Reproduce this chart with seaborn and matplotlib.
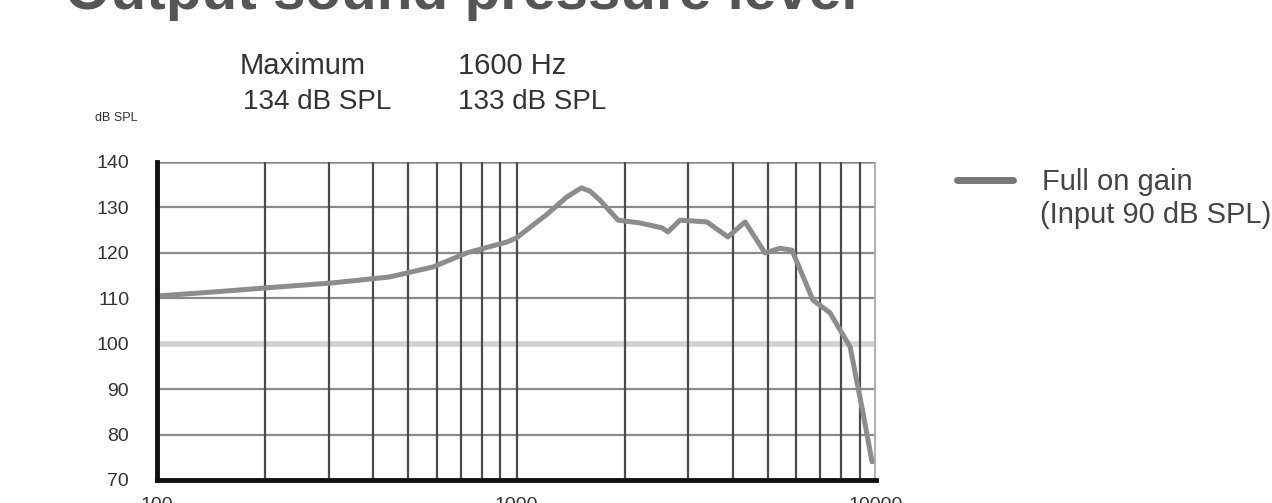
import numpy as np
import pandas as pd
import seaborn as sns
import matplotlib.pyplot as plt
from matplotlib.lines import Line2D

# Werte
freq_hz = [100, 150, 202, 309, 444, 586, 728, 942, 1000, 1216, 1380, 1514, 1600, 1707,
           1916, 2200, 2540, 2638, 2850, 3388, 3873, 4323, 4911, 5408, 5838, 6677,
           7447, 8471, 9205, 9750]
spl_db = [110.5, 111.5, 112.3, 113.4, 114.7, 116.9, 120.0, 122.4, 123.3, 128.5, 132.3,
          134.3, 133.6, 131.6, 127.2, 126.6, 125.5, 124.6, 127.2, 126.8, 123.5, 126.8,
          120.0, 121.0, 120.6, 109.6, 106.8, 99.3, 84.7, 74.0]

y_ticks = [70, 80, 90, 100, 110, 120, 130, 140]
x_ticks = [100, 1000, 10000]
x_ticklabels = ["100", "1000", "10000"]

title = "Output sound pressure level"
legend_label = "Full on gain"
legend_label2 = "(Input 90 dB SPL)"
y_unit = "dB SPL"
note1 = ["Maximum", "134 dB SPL"]
note2 = ["1600 Hz", "133 dB SPL"]

df = pd.DataFrame({"Frequenz": freq_hz, "SPL": spl_db})

sns.set_style("white")
fonts = ["Liberation Sans Narrow", "Liberation Sans", "DejaVu Sans"]
plt.rcParams["font.family"] = fonts

fig = plt.figure(figsize=(12.72, 5.03), dpi=100)
ax = fig.add_axes([157 / 1272, 23 / 503, 719 / 1272, 318 / 503])

# Gitter
for v in y_ticks[1:-1]:
    if v == 100:
        ax.axhline(v, color="#d2d2d2", lw=4, zorder=1)
    else:
        ax.axhline(v, color="#8a8a8a", lw=1.6, zorder=1)
ax.axhline(140, color="#8a8a8a", lw=1.8, zorder=1)
for dec in [100, 1000]:
    for m in range(2, 10):
        f = dec * m
        ax.axvline(f, color="#4a4a4a", lw=1.6, zorder=1)
ax.axvline(1000, color="#4a4a4a", lw=1.6, zorder=1)
ax.axvline(10000, color="#b0b0b0", lw=3.5, zorder=1)

sns.lineplot(data=df, x="Frequenz", y="SPL", ax=ax, color="#8c8c8c", lw=3.6, zorder=3)

ax.set_xscale("log")
ax.set_xlim(100, 10000)
ax.set_ylim(70, 140)
ax.set_yticks(y_ticks)
ax.set_xticks(x_ticks)
ax.set_xticklabels(x_ticklabels)
ax.minorticks_off()
ax.tick_params(axis="y", length=0, pad=20, labelsize=14, labelcolor="#333333")
ax.tick_params(axis="x", length=0, pad=12, labelsize=14, labelcolor="#333333")
ax.set_xlabel("")
ax.set_ylabel("")

for s in ["top", "right"]:
    ax.spines[s].set_visible(False)
ax.spines["left"].set_linewidth(3.5)
ax.spines["left"].set_color("#111111")
ax.spines["bottom"].set_linewidth(3.5)
ax.spines["bottom"].set_color("#111111")
ax.spines["left"].set_zorder(4)
ax.spines["bottom"].set_zorder(4)

# Texte
fig.text(65 / 1272, 1 - 9 / 503, title, fontsize=42, fontweight="bold", color="#555555",
         va="baseline", ha="left")
fig.text(95 / 1272, 1 - 118 / 503, y_unit, fontsize=9, color="#333333", va="center")
fig.text(240 / 1272, 1 - 66 / 503, note1[0], fontsize=21, color="#333333", va="center")
fig.text(243 / 1272, 1 - 102 / 503, note1[1], fontsize=20, color="#333333", va="center")
fig.text(458 / 1272, 1 - 66 / 503, note2[0], fontsize=21, color="#333333", va="center")
fig.text(458 / 1272, 1 - 102 / 503, note2[1], fontsize=20, color="#333333", va="center")

handle = Line2D([0], [0], color="#777777", lw=5)
fig.legend([handle], [legend_label], loc="center left",
           bbox_to_anchor=(931 / 1272, 1 - 182 / 503), frameon=False,
           fontsize=21, handlelength=1.9, handletextpad=1.0, labelcolor="#444444")
fig.text(1040 / 1272, 1 - 215 / 503, legend_label2, fontsize=21, color="#444444", va="center")

fig.savefig("out.png", dpi=100)
